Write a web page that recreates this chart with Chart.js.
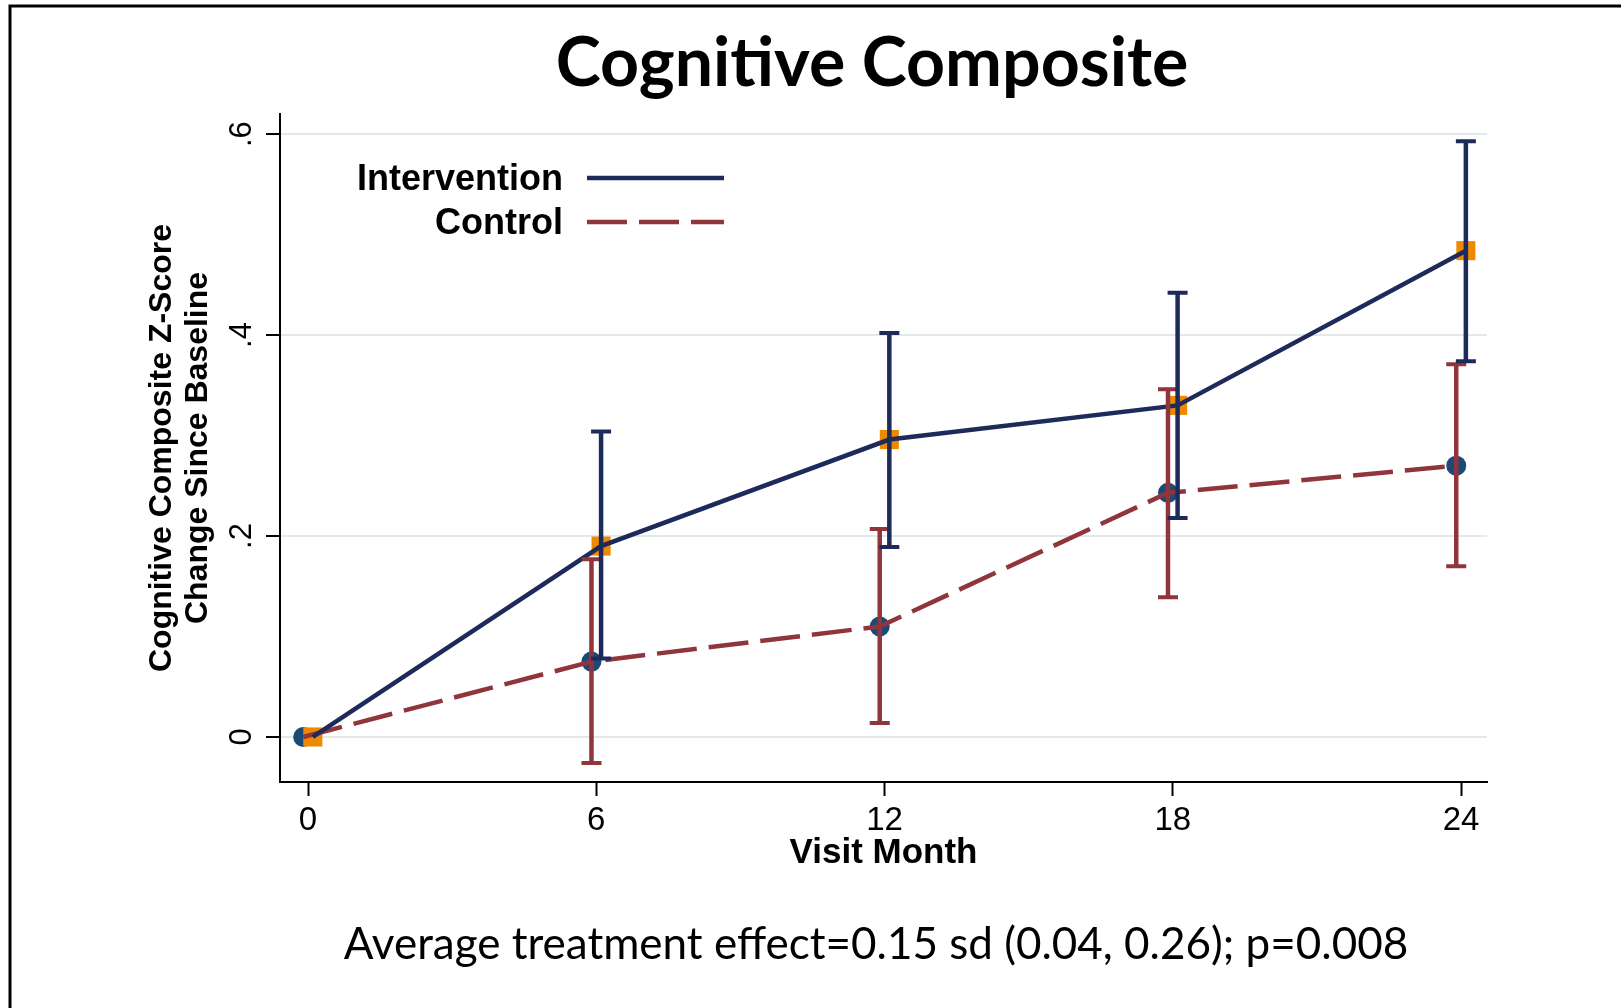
<!DOCTYPE html>
<html>
<head>
<meta charset="utf-8">
<title>Cognitive Composite</title>
<script src="https://cdn.jsdelivr.net/npm/chart.js@4.4.1/dist/chart.umd.min.js"></script>
<style>
  html, body { margin: 0; padding: 0; background: #fff; overflow: hidden; }
  canvas { display: block; }
</style>
</head>
<body>
<canvas id="chart" width="1621" height="1008"></canvas>
<script>
'use strict';

//****************************************
//            DATA
//****************************************

const months = [0, 6, 12, 18, 24];

const interventionMean  = [0, 0.190, 0.296, 0.330, 0.484];
const interventionLower = [null, 0.078, 0.189, 0.218, 0.374];
const interventionUpper = [null, 0.304, 0.402, 0.442, 0.593];

const controlMean  = [0, 0.075, 0.110, 0.243, 0.270];
const controlLower = [null, -0.026, 0.014, 0.139, 0.170];
const controlUpper = [null, 0.177, 0.207, 0.346, 0.371];

const xTicks = [0, 6, 12, 18, 24];
const yTicks = [0, 0.2, 0.4, 0.6];
const yTickLabels = ['0', '.2', '.4', '.6'];

const seriesNames = ['Intervention', 'Control'];
const chartTitle = 'Cognitive Composite';
const xTitle = 'Visit Month';
const yTitle = ['Cognitive Composite Z-Score', 'Change Since Baseline'];
const footNote = 'Average treatment effect=0.15 sd (0.04, 0.26); p=0.008';

// small horizontal offset so the two groups don't sit on top of each other
const JITTER = 0.1;

//****************************************
//            STYLE
//****************************************

const NAVY_DARK = '#1e2a5a';
const NAVY = '#1b4a77';
const MAROON = '#90353b';
const ORANGE = '#ee8a00';
const GRID = '#e3e9eb';
const LINE_W = 4.5;
const AXIS_FONT = '"Liberation Sans", Arial, sans-serif';
const TEXT_FONT = 'Lato, "Open Sans", sans-serif';

//****************************************
//            HELPER FUNCTIONS
//****************************************

function toPoints(values, shift) {
  return months.map((m, i) => ({ x: m + shift, y: values[i] }));
}

function drawErrorBars(ctx, chart, lower, upper, shift, color) {
  const xs = chart.scales.x;
  const ys = chart.scales.y;
  ctx.save();
  ctx.strokeStyle = color;
  ctx.lineCap = 'butt';
  for (let i = 0; i < months.length; i++) {
    if (lower[i] === null) continue;
    const x = xs.getPixelForValue(months[i] + shift);
    const yLo = ys.getPixelForValue(lower[i]);
    const yHi = ys.getPixelForValue(upper[i]);
    ctx.lineWidth = LINE_W;
    ctx.beginPath();
    ctx.moveTo(x, yLo);
    ctx.lineTo(x, yHi);
    ctx.stroke();
    ctx.lineWidth = 4;
    ctx.beginPath();
    ctx.moveTo(x - 10, yLo);
    ctx.lineTo(x + 10, yLo);
    ctx.moveTo(x - 10, yHi);
    ctx.lineTo(x + 10, yHi);
    ctx.stroke();
  }
  ctx.restore();
}

// frame, title, note, legend and error bars
const decorPlugin = {
  id: 'decor',
  beforeDraw(chart) {
    const ctx = chart.ctx;
    ctx.save();
    ctx.fillStyle = '#fff';
    ctx.fillRect(0, 0, chart.width, chart.height);
    ctx.strokeStyle = '#000';
    ctx.lineWidth = 3;
    ctx.beginPath();
    ctx.moveTo(10, chart.height);
    ctx.lineTo(10, 6);
    ctx.lineTo(chart.width, 6);
    ctx.stroke();
    ctx.restore();
  },
  afterDatasetsDraw(chart) {
    const ctx = chart.ctx;
    drawErrorBars(ctx, chart, controlLower, controlUpper, -JITTER, MAROON);
    drawErrorBars(ctx, chart, interventionLower, interventionUpper, JITTER, NAVY_DARK);
  },
  afterDraw(chart) {
    const ctx = chart.ctx;
    ctx.save();
    ctx.fillStyle = '#000';
    ctx.textAlign = 'center';
    ctx.textBaseline = 'alphabetic';
    ctx.font = 'bold 68px ' + TEXT_FONT;
    ctx.fillText(chartTitle, 872, 86);
    ctx.font = '44px ' + TEXT_FONT;
    ctx.fillText(footNote, 876, 959);

    // legend: label on the left, line sample on the right
    ctx.font = 'bold 36px ' + AXIS_FONT;
    ctx.textAlign = 'right';
    const rows = [
      { name: seriesNames[0], y: 178, color: NAVY_DARK, dash: [] },
      { name: seriesNames[1], y: 222, color: MAROON, dash: [40, 12] }
    ];
    rows.forEach(r => {
      ctx.fillText(r.name, 563, r.y + 12);
      ctx.strokeStyle = r.color;
      ctx.lineWidth = LINE_W;
      ctx.setLineDash(r.dash);
      ctx.beginPath();
      ctx.moveTo(587, r.y);
      ctx.lineTo(724, r.y);
      ctx.stroke();
    });
    ctx.restore();
  }
};

//****************************************
//            CHART RENDERING
//****************************************

const ctx = document.getElementById('chart').getContext('2d');

new Chart(ctx, {
  type: 'line',
  data: {
    datasets: [
      {
        label: seriesNames[1] + ' markers',
        data: toPoints(controlMean, -JITTER),
        showLine: false,
        pointStyle: 'circle',
        pointRadius: 10,
        pointBackgroundColor: NAVY,
        pointBorderWidth: 0,
        order: 4
      },
      {
        label: seriesNames[0] + ' markers',
        data: toPoints(interventionMean, JITTER),
        showLine: false,
        pointStyle: 'rect',
        pointRadius: 13.5,
        pointBackgroundColor: ORANGE,
        pointBorderWidth: 0,
        order: 3
      },
      {
        label: seriesNames[1],
        data: toPoints(controlMean, -JITTER),
        borderColor: MAROON,
        borderWidth: LINE_W,
        borderDash: [40, 12],
        pointRadius: 0,
        tension: 0,
        order: 2
      },
      {
        label: seriesNames[0],
        data: toPoints(interventionMean, JITTER),
        borderColor: NAVY_DARK,
        borderWidth: LINE_W,
        pointRadius: 0,
        tension: 0,
        order: 1
      }
    ]
  },
  options: {
    responsive: false,
    animation: false,
    devicePixelRatio: 1,
    layout: { padding: { left: 140, top: 114, right: 134, bottom: 134 } },
    plugins: {
      legend: { display: false },
      tooltip: { enabled: false },
      title: { display: false }
    },
    scales: {
      x: {
        type: 'linear',
        min: -0.583,
        max: 24.54,
        afterBuildTicks: scale => { scale.ticks = xTicks.map(v => ({ value: v })); },
        afterFit: scale => { scale.height = 92; },
        grid: { drawOnChartArea: false, tickLength: 14, tickColor: '#000', tickWidth: 2 },
        border: { display: true, color: '#000', width: 2 },
        ticks: {
          color: '#000',
          padding: 5,
          maxRotation: 0,
          font: { family: AXIS_FONT, size: 33 }
        },
        title: {
          display: true,
          text: xTitle,
          color: '#000',
          padding: { top: 0, bottom: 0 },
          font: { family: AXIS_FONT, size: 35, weight: 'bold' }
        }
      },
      y: {
        type: 'linear',
        min: -0.0448,
        max: 0.620,
        afterBuildTicks: scale => { scale.ticks = yTicks.map(v => ({ value: v })); },
        afterFit: scale => { scale.width = 140; },
        grid: { color: GRID, lineWidth: 2, tickLength: 14, tickColor: '#000', tickWidth: 2 },
        border: { display: true, color: '#000', width: 2 },
        ticks: {
          color: '#000',
          padding: 11,
          minRotation: 90,
          maxRotation: 90,
          crossAlign: 'center',
          font: { family: AXIS_FONT, size: 31 },
          callback: value => yTickLabels[yTicks.indexOf(value)]
        },
        title: {
          display: true,
          text: yTitle,
          color: '#000',
          padding: { top: 4, bottom: 0 },
          font: { family: AXIS_FONT, size: 32, weight: 'bold', lineHeight: 1.13 }
        }
      }
    }
  },
  plugins: [decorPlugin]
});
</script>
</body>
</html>
